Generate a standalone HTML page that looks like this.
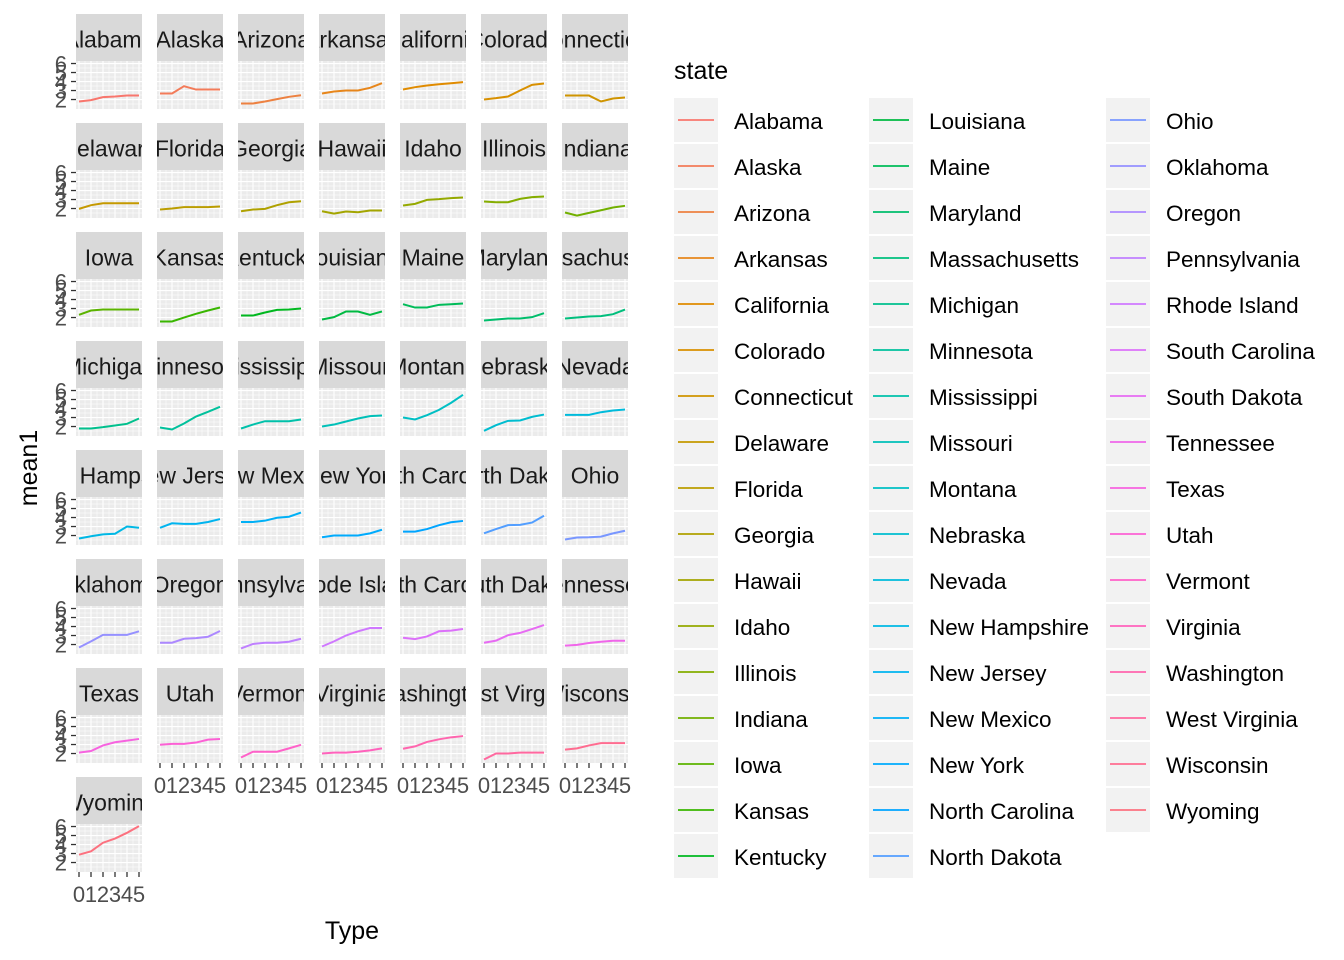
<!DOCTYPE html>
<html><head><meta charset="utf-8">
<style>
html,body{margin:0;padding:0;background:#fff;}
svg{display:block;font-family:"Liberation Sans",Arial,sans-serif;}
</style></head>
<body>
<svg id="chart" width="1344" height="960" viewBox="0 0 1344 960" xmlns="http://www.w3.org/2000/svg">
<rect width="1344" height="960" fill="#ffffff"/>
<text x="0" y="0" transform="translate(37,468) rotate(-90)" text-anchor="middle" font-size="25" fill="#000">mean1</text>
<text x="352" y="939" text-anchor="middle" font-size="25" fill="#000">Type</text>
<text x="674" y="79" font-size="25" fill="#000">state</text>
<g id="panels"></g>
<g id="legend"></g>
</svg>
<script>
const states = ["Alabama","Alaska","Arizona","Arkansas","California","Colorado","Connecticut","Delaware","Florida","Georgia","Hawaii","Idaho","Illinois","Indiana","Iowa","Kansas","Kentucky","Louisiana","Maine","Maryland","Massachusetts","Michigan","Minnesota","Mississippi","Missouri","Montana","Nebraska","Nevada","New Hampshire","New Jersey","New Mexico","New York","North Carolina","North Dakota","Ohio","Oklahoma","Oregon","Pennsylvania","Rhode Island","South Carolina","South Dakota","Tennessee","Texas","Utah","Vermont","Virginia","Washington","West Virginia","Wisconsin","Wyoming"];
const types = [0,1,2,3,4,5];
const yTicks = [2,3,4,5,6];
const xTicks = [0,1,2,3,4,5];
const v01 = [1.78,1.93,2.26,2.33,2.44,2.44];
const v02 = [2.67,2.67,3.48,3.11,3.11,3.11];
const v03 = [1.56,1.56,1.78,2.04,2.30,2.48];
const v04 = [2.67,2.89,3.0,3.0,3.3,3.81];
const v05 = [3.11,3.37,3.56,3.7,3.81,3.93];
const v06 = [2.0,2.15,2.33,3.0,3.63,3.78];
const v07 = [2.44,2.44,2.44,1.78,2.11,2.22];
const v08 = [1.96,2.37,2.59,2.59,2.59,2.59];
const v09 = [1.89,2.0,2.15,2.15,2.15,2.22];
const v10 = [1.7,1.89,1.96,2.37,2.7,2.81];
const v11 = [1.7,1.44,1.67,1.59,1.78,1.78];
const v12 = [2.33,2.52,2.96,3.04,3.15,3.22];
const v13 = [2.78,2.7,2.7,3.07,3.26,3.33];
const v14 = [1.56,1.22,1.52,1.81,2.11,2.3];
const v15 = [2.3,2.78,2.89,2.89,2.89,2.89];
const v16 = [1.56,1.56,2.0,2.41,2.78,3.11];
const v17 = [2.22,2.22,2.56,2.85,2.89,3.0];
const v18 = [1.78,2.04,2.67,2.67,2.3,2.67];
const v19 = [3.48,3.11,3.11,3.41,3.48,3.56];
const v20 = [1.67,1.78,1.89,1.89,2.04,2.48];
const v21 = [1.89,2.0,2.11,2.15,2.37,2.89];
const v22 = [1.78,1.78,1.93,2.11,2.3,2.89];
const v23 = [1.89,1.67,2.33,3.11,3.63,4.19];
const v24 = [1.78,2.22,2.59,2.59,2.59,2.78];
const v25 = [2.0,2.22,2.56,2.89,3.15,3.22];
const v26 = [3.0,2.78,3.26,3.85,4.63,5.52];
const v27 = [1.52,2.15,2.63,2.67,3.07,3.33];
const v28 = [3.3,3.3,3.3,3.59,3.78,3.89];
const v29 = [1.67,1.92,2.13,2.2,3.0,2.86];
const v30 = [2.86,3.36,3.29,3.29,3.5,3.83];
const v31 = [3.5,3.5,3.65,3.97,4.09,4.55];
const v32 = [1.81,2.0,2.0,2.0,2.24,2.64];
const v33 = [2.43,2.43,2.72,3.15,3.47,3.62];
const v34 = [2.25,2.72,3.15,3.18,3.44,4.2];
const v35 = [1.56,1.78,1.81,1.88,2.24,2.53];
const v36 = [1.67,2.35,3.07,3.07,3.07,3.47];
const v37 = [2.2,2.2,2.64,2.71,2.86,3.5];
const v38 = [1.56,2.06,2.2,2.2,2.31,2.64];
const v39 = [1.78,2.35,3.0,3.47,3.83,3.83];
const v40 = [2.75,2.6,2.9,3.47,3.54,3.72];
const v41 = [2.2,2.43,3.04,3.29,3.72,4.16];
const v42 = [1.88,1.96,2.17,2.31,2.42,2.42];
const v43 = [2.1,2.28,2.9,3.25,3.43,3.62];
const v44 = [2.97,3.07,3.07,3.22,3.54,3.62];
const v45 = [1.56,2.2,2.2,2.2,2.57,2.97];
const v46 = [2.0,2.1,2.1,2.2,2.35,2.57];
const v47 = [2.53,2.79,3.29,3.58,3.8,3.94];
const v48 = [1.34,2.0,2.0,2.1,2.1,2.1];
const v49 = [2.43,2.57,2.9,3.15,3.15,3.15];
const v50 = [2.87,3.24,4.2,4.66,5.3,6.05];
const series = [v01,v02,v03,v04,v05,v06,v07,v08,v09,v10,v11,v12,v13,v14,v15,v16,v17,v18,v19,v20,v21,v22,v23,v24,v25,v26,v27,v28,v29,v30,v31,v32,v33,v34,v35,v36,v37,v38,v39,v40,v41,v42,v43,v44,v45,v46,v47,v48,v49,v50];

const NS = "http://www.w3.org/2000/svg";
function mk(tag, attrs, parent){const e=document.createElementNS(NS,tag);for(const k in attrs)e.setAttribute(k,attrs[k]);if(parent)parent.appendChild(e);return e;}

function hcl(h){
  const L=65,C=100,hr=h*Math.PI/180;
  const u=C*Math.cos(hr),v=C*Math.sin(hr);
  const Xn=95.047,Yn=100,Zn=108.883;
  const Y=Yn*Math.pow((L+16)/116,3);
  const d=Xn+15*Yn+3*Zn,un=4*Xn/d,vn=9*Yn/d;
  const up=u/(13*L)+un,vp=v/(13*L)+vn;
  const X=9*Y*up/(4*vp),Z=Y*(12-3*up-20*vp)/(4*vp);
  const x=X/100,y=Y/100,z=Z/100;
  let r=3.2404542*x-1.5371385*y-0.4985314*z;
  let g=-0.9692660*x+1.8760108*y+0.0415560*z;
  let b=0.0556434*x-0.2040259*y+1.0572252*z;
  const gam=c=>{c=c<=0.0031308?12.92*c:1.055*Math.pow(c,1/2.4)-0.055;c=Math.max(0,Math.min(1,c));return Math.round(c*255).toString(16).padStart(2,'0');};
  return '#'+gam(r)+gam(g)+gam(b);
}
const colors = states.map((s,i)=>hcl(15+360*i/states.length));

const PW=66, PH=48, X0=76, COLW=81, STRIP_TOP=14, STRIPH=47, ROWH=109;
const xMin=-0.25, xMax=5.25, yMax=6.28, yMin=yMax-PH/9;
function sx(left,v){return left+(v-xMin)/(xMax-xMin)*PW;}
function sy(top,v){return top+(yMax-v)/(yMax-yMin)*PH;}

const panels=document.getElementById('panels');
states.forEach((st,i)=>{
  const r=Math.floor(i/7), c=i%7;
  const left=X0+c*COLW, stripTop=STRIP_TOP+r*ROWH, top=stripTop+STRIPH;
  const g=mk('g',{},panels);
  
  
  const cid='clip'+i;
  const cp=mk('clipPath',{id:cid},g); mk('rect',{x:left,y:stripTop,width:PW,height:STRIPH},cp);
  const sr=mk('rect',{x:left,y:stripTop,width:PW,height:STRIPH,fill:'#D9D9D9'},g);
  
  
  const stx=mk('text',{x:left+PW/2,y:stripTop+STRIPH/2+10,'text-anchor':'middle','font-size':'23',fill:'#1A1A1A','clip-path':'url(#'+cid+')'},g);
  stx.textContent=st;
  
  
  const bg=mk('rect',{x:left,y:top,width:PW,height:PH,fill:'#EBEBEB'},g);
  
  
  for(let v=1.5;v<=6;v+=1){const y=sy(top,v); if(y>top&&y<top+PH) mk('line',{x1:left,x2:left+PW,y1:y,y2:y,stroke:'#fff','stroke-width':0.55},g);}
  for(let v=0.5;v<5;v+=1){const x=sx(left,v); mk('line',{x1:x,x2:x,y1:top,y2:top+PH,stroke:'#fff','stroke-width':0.55},g);}
  yTicks.forEach(v=>{const y=sy(top,v); mk('line',{x1:left,x2:left+PW,y1:y,y2:y,stroke:'#fff','stroke-width':1.1},g);});
  xTicks.forEach(v=>{const x=sx(left,v); mk('line',{x1:x,x2:x,y1:top,y2:top+PH,stroke:'#fff','stroke-width':1.1},g);});
  const pts=types.map((t,k)=>sx(left,t).toFixed(2)+','+sy(top,series[i][k]).toFixed(2)).join(' ');
  const pl=mk('polyline',{points:pts,fill:'none',stroke:colors[i],'stroke-width':2},g);
  
  
  if(c===0){
    yTicks.forEach(v=>{const y=sy(top,v);
      mk('line',{x1:left-5,x2:left,y1:y,y2:y,stroke:'#333','stroke-width':1.3},g);
      const t=mk('text',{x:left-9,y:y+8,'text-anchor':'end','font-size':'22',fill:'#4D4D4D'},g);
      t.textContent=v;
      
      
    });
  }
  const isBottom = (i+7>=states.length);
  if(isBottom){
    xTicks.forEach(v=>{const x=sx(left,v);
      mk('line',{x1:x,x2:x,y1:top+PH,y2:top+PH+5,stroke:'#333','stroke-width':1.3},g);
      const t=mk('text',{x:x,y:top+PH+30,'text-anchor':'middle','font-size':'22',fill:'#4D4D4D'},g);
      t.textContent=v;
      
      
    });
  }
});

const legend=document.getElementById('legend');
const legCols=[674,869,1106];
states.forEach((st,i)=>{
  const c=Math.floor(i/17), k=i%17;
  const x=legCols[c], y=98+46*k;
  const g=mk('g',{},legend);
  
  
  mk('rect',{x:x,y:y,width:44,height:44,fill:'#F2F2F2'},g);
  mk('line',{x1:x+4,x2:x+40,y1:y+22,y2:y+22,stroke:colors[i],'stroke-width':1.8},g);
  const t=mk('text',{x:x+60,y:y+31,'font-size':'22.5',fill:'#000'},g);
  t.textContent=st;
});
</script>
</body></html>
